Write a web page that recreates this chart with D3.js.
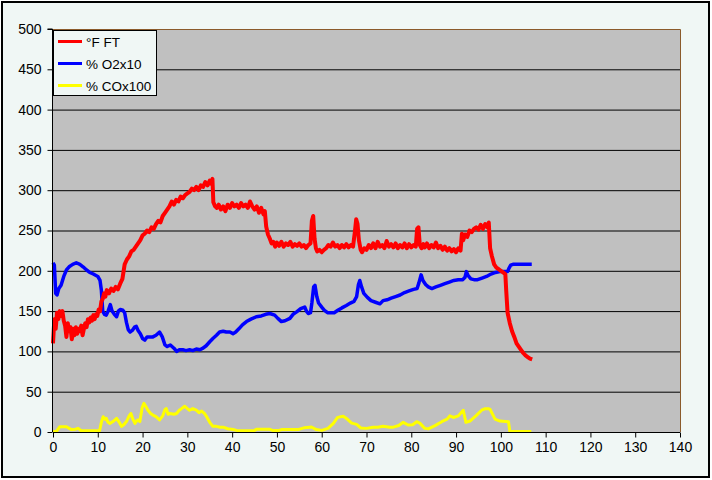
<!DOCTYPE html>
<html>
<head>
<meta charset="utf-8">
<script src="https://cdn.jsdelivr.net/npm/d3@7"></script>
<style>
  html, body { margin: 0; padding: 0; background: #ffffff; }
  svg { display: block; }
  text { font-family: "Liberation Sans", Arial, sans-serif; }
</style>
</head>
<body>
<svg id="chart" width="712" height="480"></svg>
<script>
// ---- Data (time in minutes, values) ----
const seriesNames = ["°F FT", "% O2x10", "% COx100"];
const seriesColors = ["#ff0000", "#0000ff", "#ffff00"];
const xTicks = [0, 10, 20, 30, 40, 50, 60, 70, 80, 90, 100, 110, 120, 130, 140];
const yTicks = [0, 50, 100, 150, 200, 250, 300, 350, 400, 450, 500];

const ftData = [
  [0,110],[0.3,140],[0.6,128],[0.9,148],[1.2,140],[1.5,150],[1.8,144],[2.1,150],[2.4,138],[2.7,132],
  [3.0,118],[3.3,135],[3.6,125],[3.9,130],[4.2,115],[4.5,128],[4.8,120],[5.1,130],[5.4,122],[5.7,128],
  [6.0,125],[6.3,132],[6.6,120],[6.9,128],[7.2,135],[7.5,130],[7.8,140],[8.1,136],[8.4,142],[8.7,138],
  [9.0,145],[9.3,140],[9.6,146],[9.9,144],[10.2,152],[10.5,150],[10.8,162],[11.1,165],[11.4,172],[11.7,168],
  [12.0,176],[12.5,172],[13.0,178],[13.5,175],[14.0,180],[14.5,177],[15.0,184],[15.5,190],[16.0,208],[16.5,214],
  [17.0,218],[17.5,224],[18.0,226],[18.5,230],[19.0,234],[19.5,238],[20.0,244],[20.5,246],[21.0,250],[21.5,248],
  [22.0,254],[22.5,252],[23.0,258],[23.5,262],[24.0,260],[24.5,268],[25.0,272],[25.5,276],[26.0,280],[26.5,286],
  [27.0,282],[27.5,288],[28.0,286],[28.5,292],[29.0,290],[29.5,294],[30.0,296],[30.5,298],[31.0,302],[31.5,300],
  [32.0,304],[32.5,300],[33.0,306],[33.5,304],[34.0,310],[34.5,306],[35.0,312],[35.3,308],[35.6,314],[35.8,285],
  [36.2,280],[36.6,278],[37.0,282],[37.5,276],[38.0,280],[38.5,274],[39.0,282],[39.5,278],[40.0,284],[40.5,280],
  [41.0,282],[41.5,278],[42.0,284],[42.5,280],[43.0,282],[43.5,278],[44.0,286],[44.5,280],[45.0,276],[45.5,280],
  [46.0,272],[46.5,278],[47.0,270],[47.3,274],[47.6,255],[48.0,245],[48.4,240],[48.8,234],[49.2,236],[49.6,230],
  [50.0,235],[50.5,231],[51.0,236],[51.5,230],[52.0,234],[52.5,232],[53.0,236],[53.5,230],[54.0,233],[54.5,231],
  [55.0,234],[55.5,230],[56.0,232],[56.5,228],[57.0,232],[57.5,234],[57.8,262],[58.1,268],[58.4,240],[58.7,228],
  [59.0,224],[59.5,226],[60.0,223],[60.5,226],[61.0,228],[61.5,232],[62.0,230],[62.5,235],[63.0,230],[63.5,232],
  [64.0,228],[64.5,232],[65.0,229],[65.5,233],[66.0,229],[66.5,232],[67.0,230],[67.4,248],[67.7,264],[68.0,258],
  [68.3,238],[68.7,226],[69.0,223],[69.5,228],[70.0,226],[70.5,232],[71.0,228],[71.5,234],[72.0,228],[72.5,236],
  [73.0,230],[73.5,232],[74.0,228],[74.5,237],[75.0,230],[75.5,233],[76.0,229],[76.5,234],[77.0,228],[77.5,232],
  [78.0,229],[78.5,234],[79.0,228],[79.5,233],[80.0,229],[80.5,232],[81.0,230],[81.3,252],[81.6,254],[81.9,232],
  [82.3,228],[82.7,233],[83.0,229],[83.5,234],[84.0,228],[84.5,232],[85.0,229],[85.5,235],[86.0,228],[86.5,231],
  [87.0,226],[87.5,230],[88.0,225],[88.5,228],[89.0,224],[89.5,227],[90.0,223],[90.5,228],[91.0,225],[91.3,246],
  [91.6,238],[92.0,245],[92.5,242],[93.0,250],[93.5,248],[94.0,252],[94.5,254],[95.0,251],[95.5,257],[96.0,252],
  [96.5,258],[97.0,254],[97.3,260],[97.6,228],[98.0,218],[98.5,208],[99.0,204],[99.5,202],[100.0,200],[100.5,198],
  [101.0,196],[101.2,175],[101.5,148],[102.0,135],[102.5,125],[103.0,118],[103.5,110],[104.0,106],[104.5,102],
  [105.0,98],[105.5,95],[106.0,93],[106.5,91],[107.0,90]
];

const o2Data = [
  [0,210],[0.3,207],[0.6,172],[0.9,170],[1.3,178],[1.8,182],[2.4,193],[3.0,201],[3.6,205],[4.4,208],
  [5.2,210],[6.0,208],[6.7,205],[7.5,201],[8.2,198],[9.0,196],[10.0,193],[10.5,188],[10.8,176],[11.1,150],
  [11.5,146],[11.9,145],[12.3,150],[12.8,158],[13.2,150],[13.7,146],[14.2,143],[14.6,150],[15.0,152],[15.6,151],
  [16.0,148],[16.4,136],[16.8,127],[17.2,124],[17.7,126],[18.2,130],[18.6,131],[19.0,126],[19.5,122],[20.0,116],
  [20.5,114],[21.0,118],[21.6,118],[22.3,118],[23.0,120],[23.8,124],[24.4,118],[25.0,108],[25.5,106],[26.2,108],
  [27.0,104],[27.6,100],[28.2,102],[29.0,102],[29.7,101],[30.5,102],[31.2,101],[32.0,103],[32.8,102],[33.5,104],
  [34.2,107],[35.0,112],[35.7,116],[36.5,120],[37.2,124],[38.0,125],[38.7,124],[39.5,124],[40.2,122],[40.8,124],
  [41.5,128],[42.3,133],[43.2,137],[44.2,140],[45.4,143],[46.5,144],[47.5,146],[48.4,147],[49.5,145],[50.2,141],
  [51.0,137],[51.8,138],[52.9,141],[53.6,146],[54.4,149],[55.3,153],[56.2,155],[56.6,150],[57.0,147],[57.5,148],
  [57.8,160],[58.2,180],[58.5,182],[58.9,168],[59.3,160],[60.0,155],[60.6,151],[61.3,148],[62.0,148],[62.8,148],
  [63.6,151],[64.5,154],[65.5,157],[66.4,160],[67.2,162],[67.8,168],[68.2,183],[68.5,188],[68.9,180],[69.4,172],
  [70.2,167],[71.0,163],[72.0,161],[73.0,159],[73.7,163],[74.6,164],[75.5,166],[76.5,168],[77.5,170],[78.5,173],
  [79.5,175],[80.5,177],[81.3,178],[81.7,185],[82.2,195],[82.6,188],[83.2,183],[83.8,180],[84.6,178],[85.5,180],
  [86.5,182],[87.5,184],[88.5,186],[89.5,188],[90.5,189],[91.5,189],[92.0,192],[92.3,199],[92.7,194],[93.3,190],
  [94.0,189],[94.8,189],[95.8,191],[96.8,193],[97.8,196],[98.8,198],[99.8,199],[100.8,199],[101.5,199],[101.8,203],
  [102.2,207],[102.7,208],[104.0,208],[105.5,208],[106.9,208]
];

const coData = [
  [0,0],[0.8,1],[1.5,6.5],[3.0,6.5],[4.1,3],[5.0,3.5],[5.6,4.5],[6.3,1.6],[8.0,1.5],[10.4,1.6],
  [10.8,12],[11.2,19],[11.6,16],[11.9,17],[12.3,12],[12.7,10.7],[13.4,13],[14.2,17],[14.8,12],[15.3,7],
  [15.8,9],[16.4,13],[17.0,20],[17.4,23],[17.9,15],[18.3,10.7],[18.7,14],[19.0,15],[19.4,13],[19.9,30],
  [20.3,35.6],[20.8,31],[21.2,27],[21.8,23],[22.3,21],[23.0,19],[23.8,15],[24.5,20],[25.0,28],[25.3,29],
  [25.7,22],[26.1,23],[27.0,22],[27.6,23],[28.2,27],[28.7,29],[29.4,32],[30.0,29],[30.5,27],[31.2,29],
  [32.0,27],[32.6,24],[33.2,26],[33.8,23],[34.3,19],[35.0,12],[35.7,7],[36.5,7],[37.3,6],[38.0,6],
  [39.0,4],[40.2,3],[41.0,2],[43.2,1.6],[45.0,2],[45.4,3.3],[48.4,3.3],[49.0,2],[50.5,2],[51.0,3],
  [54.7,3],[56.2,5.4],[57.7,6.2],[58.8,3],[60.0,2],[61.4,4.5],[62.6,10.7],[63.5,17.8],[64.2,19],[64.8,19.4],
  [65.7,16],[66.7,11],[67.8,9.5],[68.7,5],[70.0,4.5],[71.5,5.8],[72.5,6],[73.7,7],[75.2,6],[76.0,6],
  [77.2,8],[78.2,12],[79.3,8.7],[80.3,9],[81.2,12.8],[81.9,11],[83.0,4.5],[83.8,4],[85.3,7.9],[86.8,12.8],
  [88.0,16],[88.6,20],[89.4,18],[90.5,20],[91.6,27],[92.2,12],[93.1,13.6],[94.6,21],[95.7,27],[96.5,29],
  [97.2,29],[97.6,28],[98.7,16],[99.8,13.6],[101.7,12.8],[101.9,5],[102.0,0.5],[106.8,0.5]
];

const allSeries = [ftData, o2Data, coData];
const seriesWidths = [4, 3.5, 3];

// ---- Layout ----
const svg = d3.select("#chart");
const plot = { left: 53, right: 680, top: 29, bottom: 432 };

const x = d3.scaleLinear().domain([0, 140]).range([plot.left, plot.right]);
const y = d3.scaleLinear().domain([0, 500]).range([plot.bottom, plot.top]);

// chart background and outer border
svg.append("rect").attr("x", 2).attr("y", 2).attr("width", 707).attr("height", 475)
  .attr("fill", "#f0f7f5").attr("stroke", "#000").attr("stroke-width", 2);

// plot area
svg.append("rect")
  .attr("x", plot.left).attr("y", plot.top)
  .attr("width", plot.right - plot.left).attr("height", plot.bottom - plot.top)
  .attr("fill", "#c0c0c0");

// gridlines
svg.append("g").selectAll("line").data(yTicks.filter(d => d > 0 && d < 500)).join("line")
  .attr("x1", plot.left).attr("x2", plot.right)
  .attr("y1", d => y(d) + 0.5).attr("y2", d => y(d) + 0.5)
  .attr("stroke", "#000").attr("stroke-width", 1);

// plot border (top and right) brown
svg.append("path")
  .attr("d", `M${plot.left},${plot.top + 0.5}H${plot.right + 0.5}V${plot.bottom}`)
  .attr("fill", "none").attr("stroke", "#8b5a2b").attr("stroke-width", 1);

// series
const line = d3.line().x(d => x(d[0])).y(d => y(d[1]));
[2, 1, 0].forEach(i => {
  svg.append("path")
    .datum(allSeries[i])
    .attr("d", line)
    .attr("fill", "none")
    .attr("stroke", seriesColors[i])
    .attr("stroke-width", seriesWidths[i])
    .attr("stroke-linejoin", "round");
});

// axes
const xAxis = d3.axisBottom(x).tickValues(xTicks).tickSize(5).tickPadding(5).tickFormat(d3.format("d"));
const yAxis = d3.axisLeft(y).tickValues(yTicks).tickSize(5).tickPadding(6).tickFormat(d3.format("d"));

const gx = svg.append("g").attr("transform", `translate(0,${plot.bottom + 0.5})`).call(xAxis);
const gy = svg.append("g").attr("transform", `translate(${plot.left - 0.5},0)`).call(yAxis);
[gx, gy].forEach(g => {
  g.select(".domain").attr("stroke", "#000").attr("stroke-width", 1);
  g.selectAll(".tick line").attr("stroke", "#000");
  g.selectAll(".tick text").attr("fill", "#000").style("font-size", "14px")
    .style("font-family", "'Liberation Sans', Arial, sans-serif");
});
gy.select(".domain").attr("d", `M-5,${plot.top}H0V${plot.bottom}`);
gx.select(".domain").attr("d", `M${plot.left},0H${plot.right}`);

// legend
const lg = svg.append("g");
lg.append("rect").attr("x", 53.5).attr("y", 30.5).attr("width", 103).attr("height", 65)
  .attr("fill", "#f0f7f5").attr("stroke", "#000").attr("stroke-width", 1);
seriesNames.forEach((name, i) => {
  const cy = 41.5 + i * 22;
  lg.append("line").attr("x1", 58).attr("x2", 82).attr("y1", cy).attr("y2", cy)
    .attr("stroke", seriesColors[i]).attr("stroke-width", 3);
  lg.append("text").attr("x", 86).attr("y", cy + 5).text(name)
    .attr("fill", "#000").style("font-size", "13.5px");
});
</script>
</body>
</html>
